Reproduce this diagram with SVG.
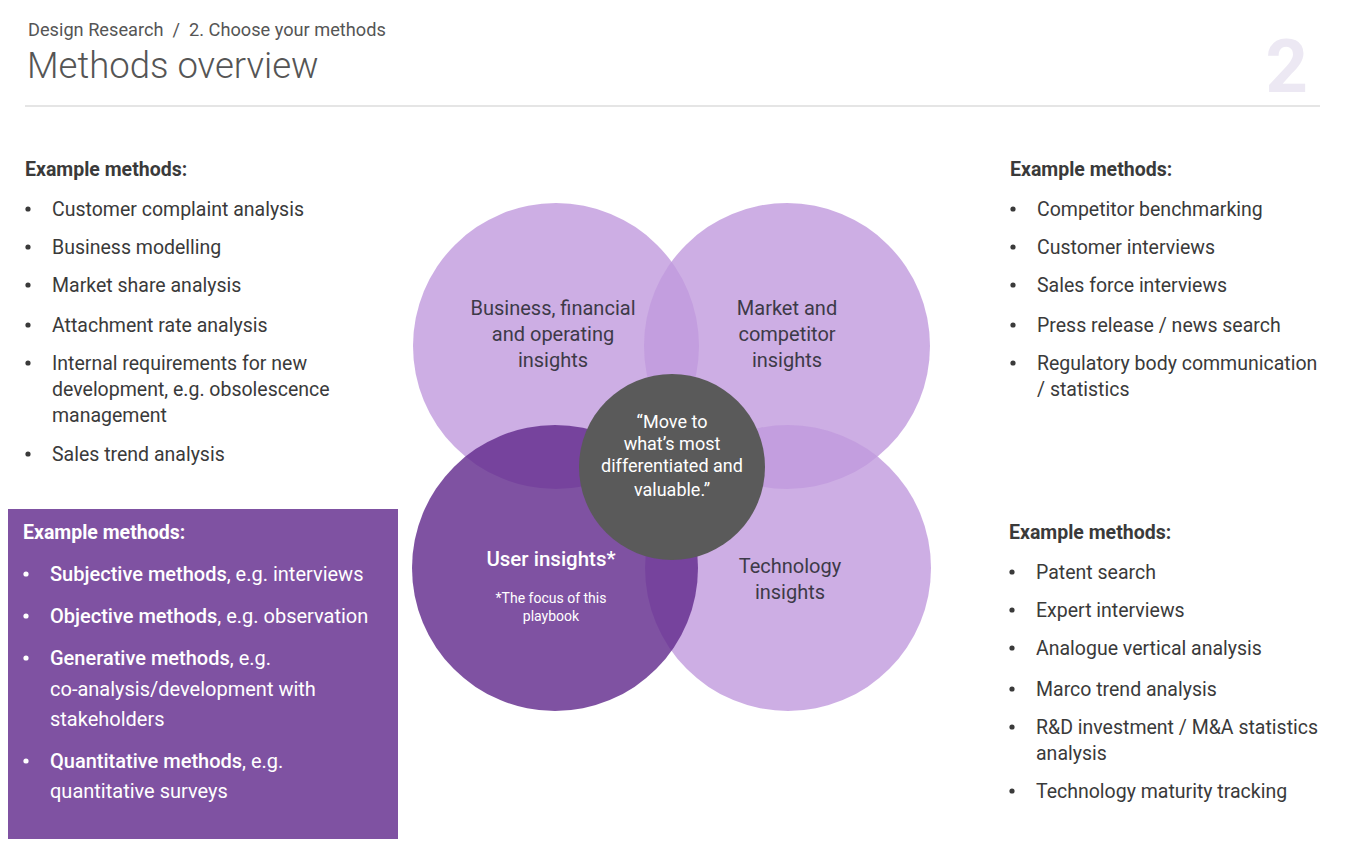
<svg xmlns="http://www.w3.org/2000/svg" width="1363" height="851" viewBox="0 0 1363 851">
<style>
.hdr{font-family:Roboto,"Liberation Sans",sans-serif;fill:#555555}
.t{font-family:Roboto,"Liberation Sans",sans-serif;font-size:19.5px;fill:#3a3a3a}
.tb{font-family:Roboto,"Liberation Sans",sans-serif;font-size:19.5px;font-weight:bold;fill:#3a3a3a}
.w{font-family:Roboto,"Liberation Sans",sans-serif;font-size:20px;fill:#ffffff}
.lbl{font-family:Roboto,"Liberation Sans",sans-serif;font-size:20px;fill:#3d3a48;text-anchor:middle}
.light{fill:#C09ADD;fill-opacity:0.8}
.bd{fill:#3a3a3a}
.bw{fill:#ffffff}
</style>
<rect width="1363" height="851" fill="#ffffff"/>
<g id="header">
<text class="hdr" x="28" y="36" font-size="18.2" xml:space="preserve">Design Research  /  2. Choose your methods</text>
<text class="hdr" x="27" y="78" font-size="36.5" font-weight="300" fill="#5a5a66">Methods overview</text>
<text x="1308" y="92" font-family="Roboto,'Liberation Sans',sans-serif" font-size="74" font-weight="bold" fill="#ECE8F3" text-anchor="end">2</text>
<line x1="25" y1="106" x2="1320" y2="106" stroke="#cccccc" stroke-width="1.2"/>
</g>
<g id="venn">
<circle id="business" class="light" cx="556" cy="346" r="143"/>
<circle id="market" class="light" cx="787" cy="346" r="143"/>
<circle id="technology" class="light" cx="788" cy="568" r="143"/>
<circle id="user" cx="555" cy="568" r="143" fill="#632C8E" fill-opacity="0.82"/>
<circle id="core" cx="672" cy="467" r="93" fill="#5A5A5A"/>
</g>
<g id="labels">
<text class="lbl" x="553" y="315">Business, financial</text>
<text class="lbl" x="553" y="341">and operating</text>
<text class="lbl" x="553" y="367">insights</text>
<text class="lbl" x="787" y="315">Market and</text>
<text class="lbl" x="787" y="341">competitor</text>
<text class="lbl" x="787" y="367">insights</text>
<text class="lbl" x="790" y="573">Technology</text>
<text class="lbl" x="790" y="599">insights</text>
<text x="551" y="566" font-family="Roboto,'Liberation Sans',sans-serif" font-size="20.5" font-weight="500" fill="#ffffff" text-anchor="middle">User insights*</text>
<text x="551" y="603" font-family="Roboto,'Liberation Sans',sans-serif" font-size="14" fill="#ffffff" text-anchor="middle">*The focus of this</text>
<text x="551" y="621" font-family="Roboto,'Liberation Sans',sans-serif" font-size="14" fill="#ffffff" text-anchor="middle">playbook</text>
<g font-family="Roboto,'Liberation Sans',sans-serif" font-size="18" fill="#ffffff" text-anchor="middle">
<text x="672" y="428">“Move to</text>
<text x="672" y="450">what’s most</text>
<text x="672" y="472">differentiated and</text>
<text x="672" y="496">valuable.”</text>
</g>
</g>
<g id="left-top">
<text class="tb" x="25" y="176">Example methods:</text>
<g class="bd">
<circle cx="28" cy="209" r="2.6"/><circle cx="28" cy="247" r="2.6"/><circle cx="28" cy="285" r="2.6"/>
<circle cx="28" cy="325" r="2.6"/><circle cx="28" cy="363" r="2.6"/><circle cx="28" cy="454" r="2.6"/>
</g>
<g class="t">
<text x="52" y="216">Customer complaint analysis</text>
<text x="52" y="254">Business modelling</text>
<text x="52" y="292">Market share analysis</text>
<text x="52" y="332">Attachment rate analysis</text>
<text x="52" y="370">Internal requirements for new</text>
<text x="52" y="396">development, e.g. obsolescence</text>
<text x="52" y="422">management</text>
<text x="52" y="461">Sales trend analysis</text>
</g>
</g>
<g id="right-top">
<text class="tb" x="1010" y="176">Example methods:</text>
<g class="bd">
<circle cx="1013" cy="209" r="2.6"/><circle cx="1013" cy="247" r="2.6"/><circle cx="1013" cy="285" r="2.6"/>
<circle cx="1013" cy="325" r="2.6"/><circle cx="1013" cy="363" r="2.6"/>
</g>
<g class="t">
<text x="1037" y="216">Competitor benchmarking</text>
<text x="1037" y="254">Customer interviews</text>
<text x="1037" y="292">Sales force interviews</text>
<text x="1037" y="332">Press release / news search</text>
<text x="1037" y="370">Regulatory body communication</text>
<text x="1037" y="396">/ statistics</text>
</g>
</g>
<g id="right-bottom">
<text class="tb" x="1009" y="539">Example methods:</text>
<g class="bd">
<circle cx="1012" cy="572" r="2.6"/><circle cx="1012" cy="610" r="2.6"/><circle cx="1012" cy="648" r="2.6"/>
<circle cx="1012" cy="689" r="2.6"/><circle cx="1012" cy="727" r="2.6"/><circle cx="1012" cy="791" r="2.6"/>
</g>
<g class="t">
<text x="1036" y="579">Patent search</text>
<text x="1036" y="617">Expert interviews</text>
<text x="1036" y="655">Analogue vertical analysis</text>
<text x="1036" y="696">Marco trend analysis</text>
<text x="1036" y="734">R&amp;D investment / M&amp;A statistics</text>
<text x="1036" y="760">analysis</text>
<text x="1036" y="798">Technology maturity tracking</text>
</g>
</g>
<g id="user-box">
<rect x="8" y="509" width="390" height="330" fill="#7F52A2"/>
<text x="23" y="539" font-family="Roboto,'Liberation Sans',sans-serif" font-size="19.5" font-weight="bold" fill="#ffffff">Example methods:</text>
<g class="bw">
<circle cx="26" cy="574" r="2.6"/><circle cx="26" cy="616" r="2.6"/><circle cx="26" cy="658" r="2.6"/><circle cx="26" cy="761" r="2.6"/>
</g>
<text class="w" x="50" y="581"><tspan font-weight="500">Subjective methods</tspan>, e.g. interviews</text>
<text class="w" x="50" y="623"><tspan font-weight="500">Objective methods</tspan>, e.g. observation</text>
<text class="w" x="50" y="665"><tspan font-weight="500">Generative methods</tspan>, e.g.</text>
<text class="w" x="50" y="696">co-analysis/development with</text>
<text class="w" x="50" y="726">stakeholders</text>
<text class="w" x="50" y="768"><tspan font-weight="500">Quantitative methods</tspan>, e.g.</text>
<text class="w" x="50" y="798">quantitative surveys</text>
</g>
</svg>
